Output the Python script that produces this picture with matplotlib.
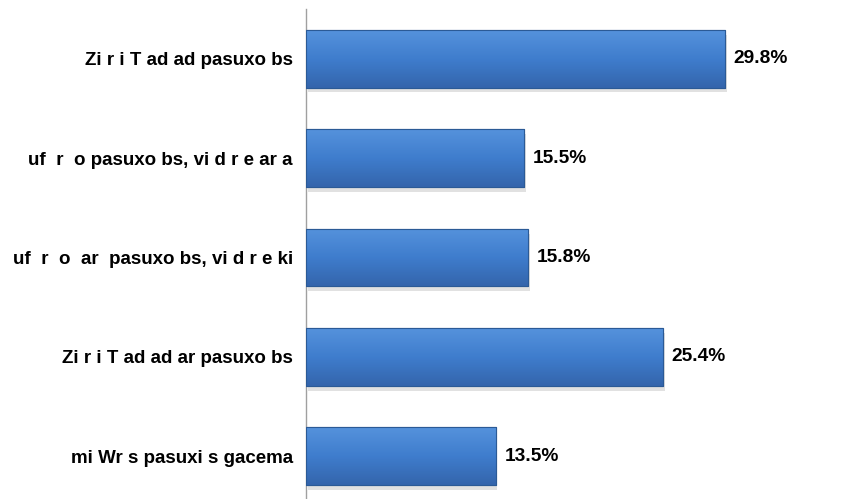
import numpy as np
import matplotlib
matplotlib.use("Agg")
import matplotlib.pyplot as plt
from matplotlib.colors import LinearSegmentedColormap

categories = [
    "Zi r i T ad ad pasuxo bs",
    "uf  r  o pasuxo bs, vi d r e ar a",
    "uf  r  o  ar  pasuxo bs, vi d r e ki",
    "Zi r i T ad ad ar pasuxo bs",
    "mi Wr s pasuxi s gacema",
]
values = [29.8, 15.5, 15.8, 25.4, 13.5]

plt.rcParams['font.family'] = ['Liberation Sans', 'DejaVu Sans']

fig = plt.figure(figsize=(8.57, 4.99), dpi=100)
ax = fig.add_axes([306 / 857, 0.0, 492 / 857, 490 / 499])

pos = np.arange(len(values))
bars = ax.barh(pos, values, height=0.58, color="#3f7ccc",
               edgecolor="#2b5a96", linewidth=0.8, zorder=3)

grad = LinearSegmentedColormap.from_list("g", ["#5592dc", "#3f7dcd", "#3465ac"])
gimg = np.linspace(0, 1, 64).reshape(-1, 1)
for b in bars:
    x0, y0 = b.get_x(), b.get_y()
    w, h = b.get_width(), b.get_height()
    # soft shadow
    ax.add_patch(plt.Rectangle((x0 + 0.12, y0 + 0.05), w, h, color="#c4c4c4",
                               alpha=0.5, zorder=2, lw=0))
    im = ax.imshow(gimg, cmap=grad, aspect="auto", extent=(x0, x0 + w, y0 + h, y0),
                   zorder=3.5, interpolation="bicubic")
    im.set_clip_path(b)
    ax.add_patch(plt.Rectangle((x0, y0), w, h, fill=False, edgecolor="#2b5a96",
                               lw=0.8, zorder=4))

for b, v in zip(bars, values):
    ax.text(b.get_width() + 0.62, b.get_y() + b.get_height() / 2, f"{v:.1f}%",
            va="center", ha="left", fontsize=13.8, fontweight="bold", zorder=5)

ax.set_yticks(pos)
ax.set_yticklabels(categories, fontsize=13.5, fontweight="bold")
ax.tick_params(axis="y", length=0, pad=9.5)
ax.set_xticks([])
ax.set_xlim(0, 35)
ax.set_ylim(4.43, -0.5)
for s in ["top", "right", "bottom"]:
    ax.spines[s].set_visible(False)
ax.spines["left"].set_color("#a0a0a0")
ax.spines["left"].set_linewidth(1)

fig.savefig("out.png", dpi=100)
